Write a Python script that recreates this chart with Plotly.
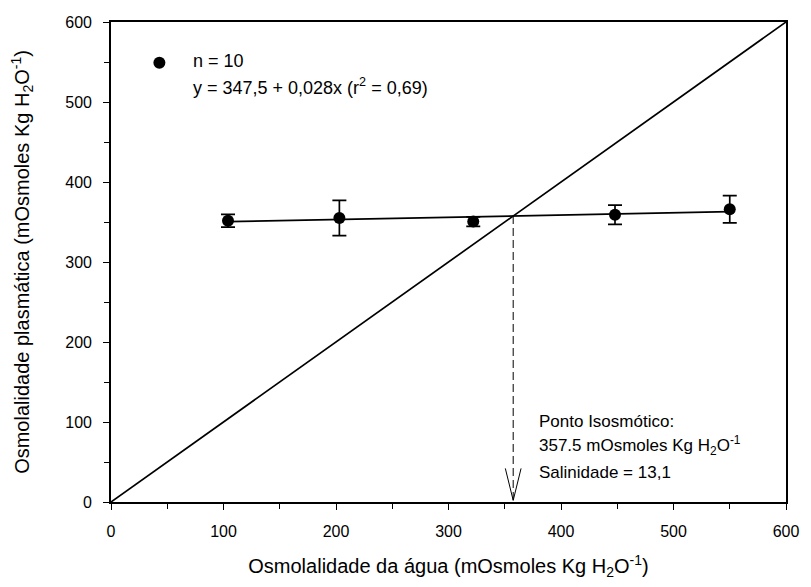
import plotly.graph_objects as go

# Data
water_osm = [104, 203, 322, 448, 550]
plasma_osm = [351.5, 355, 350.5, 359, 366]
plasma_err = [8, 22, 6, 12, 17]
intercept = 347.5
slope = 0.028
iso_point = intercept / (1 - slope)  # 357.5
axis_range = [0, 600]

FONT = "Liberation Sans"

fig = go.Figure()

# identity line
fig.add_trace(go.Scatter(x=axis_range, y=axis_range, mode="lines",
                         line=dict(color="black", width=1.7), hoverinfo="skip"))
# regression line
xr = [min(water_osm), max(water_osm)]
fig.add_trace(go.Scatter(x=xr, y=[intercept + slope * v for v in xr], mode="lines",
                         line=dict(color="black", width=1.7), hoverinfo="skip"))
# data points
fig.add_trace(go.Scatter(x=water_osm, y=plasma_osm, mode="markers",
                         marker=dict(color="black", size=12),
                         error_y=dict(type="data", array=plasma_err, color="black",
                                      thickness=1.7, width=7)))
# dashed vertical to isosmotic point
fig.add_trace(go.Scatter(x=[iso_point, iso_point], y=[iso_point, 0], mode="lines",
                         line=dict(color="black", width=1, dash="8px,4px"), hoverinfo="skip"))
# open arrow head
fig.add_trace(go.Scatter(x=[iso_point - 7, iso_point, iso_point + 7], y=[42, 2, 42], mode="lines",
                         line=dict(color="black", width=1), hoverinfo="skip"))
# legend marker
fig.add_trace(go.Scatter(x=[43], y=[549], mode="markers",
                         marker=dict(color="black", size=12), hoverinfo="skip"))

LEG = dict(size=18, color="black", family=FONT)
fig.add_annotation(x=71, y=551, xref="x", yref="y", xanchor="left", yanchor="middle",
                   text="n = 10", showarrow=False, font=LEG)
fig.add_annotation(x=71, y=520, xref="x", yref="y", xanchor="left", yanchor="middle",
                   text="y = 347,5 + 0,028x (r<sup>2</sup> = 0,69)", showarrow=False, font=LEG)

ANN = dict(size=17, color="black", family=FONT)
fig.add_annotation(x=379, y=101, xref="x", yref="y", xanchor="left", yanchor="middle",
                   text="Ponto Isosmótico:", showarrow=False, font=ANN)
fig.add_annotation(x=379, y=71, xref="x", yref="y", xanchor="left", yanchor="middle",
                   text="357.5 mOsmoles Kg H<sub>2</sub>O<sup>-1</sup>", showarrow=False, font=ANN)
fig.add_annotation(x=379, y=37.5, xref="x", yref="y", xanchor="left", yanchor="middle",
                   text="Salinidade = 13,1", showarrow=False, font=ANN)

axis_common = dict(range=axis_range, dtick=100, tick0=0, ticks="outside", ticklen=6,
                   tickwidth=1.3, tickcolor="black", showline=True, linecolor="black",
                   linewidth=1.7, mirror=True, showgrid=False, zeroline=False,
                   tickfont=dict(size=16, color="black", family=FONT),
                   ticklabelstandoff=8,
                   minor=dict(dtick=50, ticks="outside", ticklen=5, tickwidth=1.3, tickcolor="black",
                              showgrid=False))

fig.update_xaxes(**axis_common,
                 title=dict(text="Osmolalidade da água (mOsmoles Kg H<sub>2</sub>O<sup>-1</sup>)",
                            font=dict(size=20, color="black", family=FONT), standoff=20))
fig.update_yaxes(**axis_common,
                 title=dict(text="Osmolalidade plasmática (mOsmoles Kg H<sub>2</sub>O<sup>-1</sup>)",
                            font=dict(size=20, color="black", family=FONT), standoff=30))

fig.update_layout(width=811, height=587, showlegend=False,
                  margin=dict(l=111, r=18, t=22, b=85),
                  plot_bgcolor="white", paper_bgcolor="white")

fig.write_html("out.html", config={"displayModeBar": False},
               post_script="document.body.style.margin='0';document.body.style.overflow='hidden';")
